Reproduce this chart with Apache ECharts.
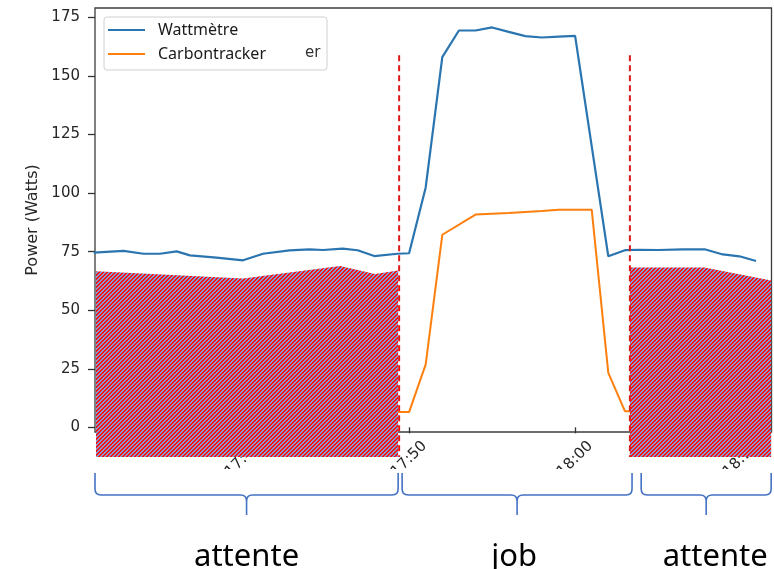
<!DOCTYPE html>
<html><head><meta charset="utf-8">
<script src="https://cdn.jsdelivr.net/npm/echarts@6/dist/echarts.min.js"></script>
<style>html,body{margin:0;padding:0;background:#fff}#c{width:774px;height:569px}</style>
</head><body><div id="c"></div>
<script>
// time in minutes after 17:00
const wattTime  = [31.0, 32.8, 34.0, 35.0, 36.0, 36.8, 38.4, 40.0, 41.2, 42.8, 44.0, 44.8, 46.0, 46.9, 47.9, 49.3, 50.0, 51.0, 52.0, 53.0, 54.0, 55.0, 56.0, 57.0, 58.0, 59.0, 60.0, 62.0, 63.0, 63.9, 65.0, 66.5, 67.8, 68.9, 69.9, 70.9];
const wattPower = [74.6, 75.3, 74.1, 74.1, 75.1, 73.4, 72.4, 71.3, 74.1, 75.5, 76.0, 75.7, 76.3, 75.6, 73.1, 74.1, 74.3, 102.4, 158.0, 169.4, 169.4, 170.7, 168.8, 167.0, 166.4, 166.8, 167.1, 73.0, 75.6, 75.8, 75.7, 76.0, 76.0, 73.8, 73.0, 71.0];
const carbonTime  = [49.0, 50.0, 51.0, 52.0, 54.0, 56.0, 58.0, 59.0, 61.0, 62.0, 63.0, 64.0];
const carbonPower = [6.5, 6.5, 26.9, 82.2, 90.8, 91.5, 92.3, 92.9, 92.9, 23.2, 6.9, 6.9];

// hatched idle areas
const idleLeftTime   = [31.14, 40.0, 45.84, 47.95, 49.34];
const idleLeftPower  = [66.6, 63.5, 68.9, 65.4, 66.9];
const idleRightTime  = [63.3, 67.8, 71.81];
const idleRightPower = [68.2, 68.2, 62.7];
const hatchBottom = -12.7;

// phase dividers and braces
const dividerTime = [49.4, 63.3];
const dividerTop = 158.8;
const phaseName  = ['attente', 'job', 'attente'];
const phaseStart = [31.08, 49.58, 63.98];
const phaseEnd   = [49.34, 63.43, 71.81];

// ticks
const xTickMinutes = [40, 50, 60, 70];
const xTickLabels  = ['17:40', '17:50', '18:00', '18:10'];
const yTicks = [0, 25, 50, 75, 100, 125, 150, 175];

function makeHatch() {
  const p = 4, c = document.createElement('canvas');
  c.width = p; c.height = p;
  const g = c.getContext('2d');
  for (let x = 0; x < p; x++) {
    for (let y = 0; y < p; y++) {
      g.fillStyle = ((x + y) % 4 < 2) ? '#839cd4' : '#ff1010';
      g.fillRect(x, y, 1, 1);
    }
  }
  return c;
}
const hatchCanvas = makeHatch();

const chart = echarts.init(document.getElementById('c'), null, {renderer: 'canvas'});
const tickFont = {fontFamily: 'DejaVu Sans', fontSize: 15, color: '#262626'};
const labelDx = [0, -3, 9];

chart.setOption({
  animation: false,
  backgroundColor: '#fff',
  grid: {left: 95, right: 2.5, top: 8, bottom: 137, show: true, borderColor: '#3c3c3c', borderWidth: 1.3},
  legend: {
    left: 104, top: 17, orient: 'vertical',
    data: ['Wattmètre', 'Carbontracker'],
    icon: 'rect', itemWidth: 37, itemHeight: 2, itemGap: 8,
    textStyle: {fontFamily: 'Noto Sans', fontSize: 16, color: '#1a1a1a', padding: [0, 0, 0, 8]},
    borderColor: '#d0d0d0', borderWidth: 1, borderRadius: 3,
    padding: [5, 61, 8, 4], backgroundColor: '#fff'
  },
  xAxis: {
    type: 'value', min: 31.08, max: 71.83,
    splitLine: {show: false},
    axisLine: {show: false},
    axisTick: {show: true, length: 6, customValues: xTickMinutes, lineStyle: {color: '#333', width: 1.3}},
    axisLabel: Object.assign({
      customValues: xTickMinutes,
      formatter: v => xTickLabels[xTickMinutes.indexOf(Math.round(v))] || '',
      rotate: 45, align: 'center', verticalAlign: 'middle', margin: 27
    }, tickFont)
  },
  yAxis: {
    type: 'value', min: -2.0, max: 179.0,
    name: 'Power (Watts)', nameLocation: 'middle', nameGap: 51, nameRotate: 90,
    nameTextStyle: {fontFamily: 'DejaVu Sans', fontSize: 16, color: '#262626'},
    splitLine: {show: false},
    axisLine: {show: false},
    axisTick: {show: true, length: 7, customValues: yTicks, lineStyle: {color: '#333', width: 1.3}},
    axisLabel: Object.assign({customValues: yTicks, margin: 15}, tickFont)
  },
  graphic: [
    {type: 'rect', z: 50, shape: {x: 0, y: 469, width: 774, height: 100}, style: {fill: '#fff'}},
    {type: 'text', z: 60, x: 305, y: 46, style: {text: 'er', font: '15px DejaVu Sans', fill: '#333'}}
  ],
  series: [
    {
      name: 'Wattmètre', type: 'line', z: 2,
      data: wattTime.map((t, i) => [t, wattPower[i]]),
      showSymbol: false, lineStyle: {color: '#2a75b0', width: 2.2}, itemStyle: {color: '#2a75b0'}
    },
    {
      name: 'Carbontracker', type: 'line', z: 2,
      data: carbonTime.map((t, i) => [t, carbonPower[i]]),
      showSymbol: false, lineStyle: {color: '#ff7f0e', width: 2}, itemStyle: {color: '#ff7f0e'}
    },
    {
      name: 'idle', type: 'custom', z: 3, clip: false, silent: true,
      data: [[idleLeftTime[0], 0, 0], [idleRightTime[0], 0, 1]],
      renderItem: function (params, api) {
        const k = api.value(2);
        const xs = k === 0 ? idleLeftTime : idleRightTime;
        const ys = k === 0 ? idleLeftPower : idleRightPower;
        const pts = xs.map((t, i) => api.coord([t, ys[i]]));
        pts.push(api.coord([xs[xs.length - 1], hatchBottom]));
        pts.push(api.coord([xs[0], hatchBottom]));
        return {type: 'polygon', shape: {points: pts}, style: {fill: {image: hatchCanvas, repeat: 'repeat'}, stroke: null}};
      }
    },
    {
      name: 'dividers', type: 'custom', z: 4, clip: false, silent: true,
      data: dividerTime.map(t => [t, dividerTop]),
      renderItem: function (params, api) {
        const a = api.coord([api.value(0), dividerTop]);
        const b = api.coord([api.value(0), hatchBottom]);
        return {type: 'line', shape: {x1: a[0], y1: a[1], x2: b[0], y2: b[1]},
          style: {stroke: '#dd1a1a', lineWidth: 2, lineDash: [6, 4]}};
      }
    },
    {
      name: 'phases', type: 'custom', z: 60, clip: false, silent: true,
      data: phaseName.map((n, i) => [phaseStart[i], 0, phaseEnd[i], i]),
      renderItem: function (params, api) {
        const i = api.value(3);
        const p1 = api.coord([api.value(0), -2]);
        const p2 = api.coord([api.value(2), -2]);
        const x1 = p1[0], x2 = p2[0], base = p1[1];
        const yT = base + 41, yL = base + 63, yB = base + 83, xm = (x1 + x2) / 2, r = 6;
        const d = 'M' + x1 + ',' + yT + ' L' + x1 + ',' + (yL - r) + ' Q' + x1 + ',' + yL + ' ' + (x1 + r) + ',' + yL +
          ' L' + (xm - r) + ',' + yL + ' Q' + xm + ',' + yL + ' ' + xm + ',' + (yL + r) + ' L' + xm + ',' + yB +
          ' M' + xm + ',' + (yL + r) + ' Q' + xm + ',' + yL + ' ' + (xm + r) + ',' + yL +
          ' L' + (x2 - r) + ',' + yL + ' Q' + x2 + ',' + yL + ' ' + x2 + ',' + (yL - r) + ' L' + x2 + ',' + yT;
        return {type: 'group', children: [
          {type: 'path', shape: {pathData: d}, style: {stroke: '#4472c4', lineWidth: 1.6, fill: null}},
          {type: 'text', style: {text: phaseName[i], x: xm + labelDx[i], y: base + 125, align: 'center', verticalAlign: 'middle',
            font: '31px "Noto Sans"', fill: '#000'}}
        ]};
      }
    }
  ]
});
</script>
</body></html>
